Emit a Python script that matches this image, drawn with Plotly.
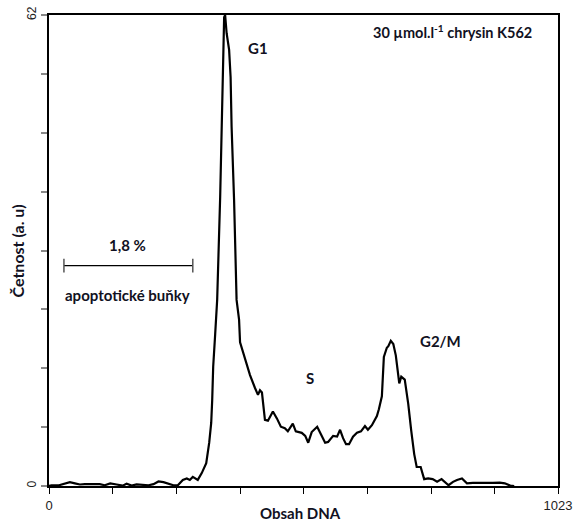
import plotly.graph_objects as go

# DNA content channel (x) and count (y)
channel = [0, 5, 20, 30, 42, 52, 62, 72, 88, 102, 112, 123, 136, 148, 156, 166, 176, 188,
           200, 210, 220, 230, 240, 250, 259, 269, 277, 283, 289, 299, 307, 316, 322, 326,
           328, 330, 334, 338, 344, 347, 348, 350, 352, 354, 357, 362, 365, 367, 369, 372,
           377, 382, 384, 394, 404, 414, 420, 424, 428, 434, 440, 450, 458, 466, 474, 480,
           490, 496, 508, 515, 521, 528, 539, 545, 555, 561, 571, 579, 585, 591, 597, 603,
           611, 619, 627, 635, 641, 649, 659, 663, 669, 673, 675, 679, 682, 687, 692, 697,
           704, 708, 715, 722, 728, 734, 739, 747, 754, 762, 771, 780, 789, 798, 803, 812,
           820, 830, 840, 852, 866, 880, 892, 906, 916, 927, 935]
count = [0, 0.1, 0.1, 0.3, 0.5, 0.35, 0.2, 0.25, 0.2, 0.25, 0.1, 0.35, 0.2, 0.05, 0.3, 0.05, 0.2, 0.15,
         0.1, 0.25, 0.6, 0.5, 0.3, 0.1, 0.1, 0.8, 1.0, 0.8, 1.2, 0.8, 1.7, 3.0, 5.7, 8.3,
         11.3, 15.7, 20.0, 24.5, 38.0, 45.9, 51.2, 56.7, 61.7, 62.0, 59.6, 57.4, 53.8, 47.3, 43.8, 37.6,
         24.5, 21.9, 18.9, 16.6, 14.6, 12.9, 12.0, 12.6, 12.3, 8.7, 8.6, 9.8, 8.9, 7.8, 7.6, 7.2,
         8.2, 7.2, 7.0, 6.6, 5.7, 7.1, 7.8, 7.0, 5.7, 5.8, 6.6, 6.5, 7.4, 6.3, 5.5, 5.5,
         6.5, 7.0, 7.2, 7.9, 7.4, 8.0, 9.2, 10.1, 11.8, 17.0, 17.5, 18.2, 18.4, 19.1, 18.7, 17.2,
         13.5, 14.4, 14.0, 10.8, 7.3, 4.2, 2.5, 2.5, 0.9, 1.0, 0.9, 0.55, 0.9, 0.45, 0.1, 0.55,
         0.8, 1.0, 0.35, 0.4, 0.4, 0.35, 0.4, 0.45, 0.35, 0.05, 0]

X_MAX = 1023
Y_MAX = 62
x_tickvals = [0, 128, 256, 384, 512, 640, 768, 896, 1023]
x_ticktext = ["0", "", "", "", "", "", "", "", "1023"]
y_tickvals = [Y_MAX * k / 8 for k in range(9)]
y_ticktext = ["0", "", "", "", "", "", "", "", "62"]

# apoptotic gate bar
gate_start, gate_end, gate_level, cap_half = 30, 289, 29, 0.9

TXT = "#111122"
FONT = "Lato"

fig = go.Figure()
fig.add_trace(go.Scatter(x=channel, y=count, mode="lines",
                         line=dict(color="black", width=2.2), hoverinfo="skip",
                         showlegend=False, cliponaxis=True))

fig.add_shape(type="line", x0=gate_start, x1=gate_end, y0=gate_level, y1=gate_level,
              line=dict(color="black", width=1.3))
for gx in (gate_start, gate_end):
    fig.add_shape(type="line", x0=gx, x1=gx, y0=gate_level - cap_half, y1=gate_level + cap_half,
                  line=dict(color="#555555", width=1.5))

def ann(text, x, y, size=15, angle=0):
    fig.add_annotation(text=text, x=x, y=y, xref="paper", yref="paper", showarrow=False,
                       textangle=angle,
                       font=dict(family=FONT, size=size, color=TXT), xanchor="center", yanchor="middle")

ann("<b>G1</b>", 0.411, 0.930)
ann("<b>30 µmol.l<sup>-1</sup> chrysin K562</b>", 0.792, 0.964, 14.5)
ann("<b>1,8 %</b>", 0.155, 0.512)
ann("<b>apoptotické buňky</b>", 0.155, 0.406)
ann("<b>S</b>", 0.513, 0.229)
ann("<b>G2/M</b>", 0.770, 0.308)
ann("<b>Obsah DNA</b>", 0.494, -0.057, 15)
ann("<b>Četnost (a. u)</b>", -0.061, 0.50, 16, -90)

fig.update_layout(
    width=574, height=522,
    margin=dict(l=49, r=16, t=15, b=36),
    paper_bgcolor="white", plot_bgcolor="white",
    xaxis=dict(range=[0, X_MAX], tickvals=x_tickvals, ticktext=x_ticktext,
               ticks="outside", ticklen=6, tickcolor="black", tickwidth=1,
               showline=True, linecolor="black", linewidth=2, mirror=True,
               showgrid=False, zeroline=False, automargin=False,
               tickfont=dict(family="Liberation Sans", size=13, color="#222222")),
    yaxis=dict(range=[0, Y_MAX], tickvals=y_tickvals, ticktext=y_ticktext,
               ticks="outside", ticklen=6, tickcolor="#888888", tickwidth=1.5,
               tickangle=-90, automargin=False,
               showline=True, linecolor="black", linewidth=2, mirror=True,
               showgrid=False, zeroline=False,
               tickfont=dict(family="Liberation Sans", size=12, color="#222222")),
)

fig.write_html("out.html", config={"displayModeBar": False},
               post_script="document.body.style.margin='0px';")
